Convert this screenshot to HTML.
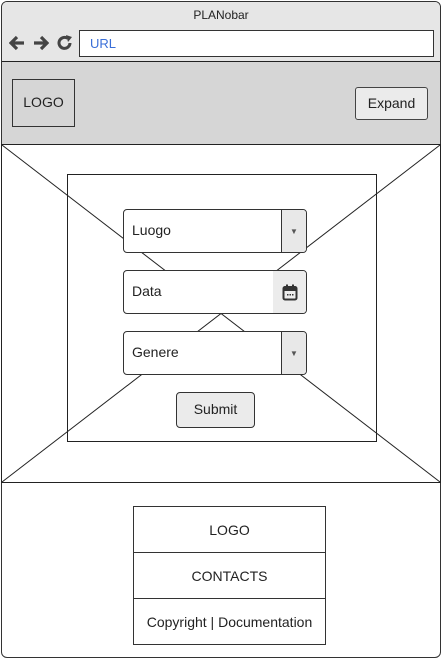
<!DOCTYPE html>
<html><head><meta charset="utf-8"><style>
body{margin:0;width:442px;height:659px;position:relative;background:#fff;font-family:"Liberation Sans",Arial,sans-serif;overflow:hidden}
.a{position:absolute;box-sizing:border-box}
.t{display:flex;align-items:center;justify-content:center;font-size:14px;color:#222}
</style></head><body>
<div class="a" style="left:1px;top:1px;width:440px;height:657px;border:1px solid #333;border-radius:6px;overflow:hidden">
 <div class="a" style="left:0;top:0;width:438px;height:60px;background:#e6e6e6;border-bottom:1px solid #222"></div>
 <div class="a" style="left:0;top:60px;width:438px;height:84px;background:#d6d6d6"></div>
</div>
<div class="a t" style="left:0;top:7px;width:442px;height:16px;font-size:12px">PLANobar</div>
<svg class="a" style="left:9px;top:35px" width="16" height="16"><path d="M8 2 L2 8 L8 14 M2 8 H15" fill="none" stroke="#444" stroke-width="3.2"/></svg>
<svg class="a" style="left:33px;top:35px" width="16" height="16"><path d="M8 2 L14 8 L8 14 M14 8 H1" fill="none" stroke="#444" stroke-width="3.2"/></svg>
<svg class="a" style="left:57px;top:35px" width="16" height="16"><path d="M13 8 A5.5 5.5 0 1 1 10.5 3.3" fill="none" stroke="#444" stroke-width="3"/><path d="M9 0 L15 2 L11 7 Z" fill="#444"/></svg>
<div class="a" style="left:79px;top:30px;width:355px;height:27px;border:1px solid #333;background:#fff;font-size:13px;color:#3a6fd8;padding:5px 10px">URL</div>
<div class="a t" style="left:12px;top:79px;width:63px;height:48px;border:1px solid #333;padding-bottom:2px">LOGO</div>
<div class="a t" style="left:355px;top:87px;width:73px;height:33px;border:1px solid #444;border-radius:3px;background:#ebebeb;padding-bottom:2px">Expand</div>
<svg class="a" style="left:0;top:144px" width="442" height="339">
 <rect x="1.5" y="0.5" width="439" height="338" fill="#fff" stroke="#222"/>
 <line x1="2" y1="1" x2="440" y2="338" stroke="#222"/>
 <line x1="440" y1="1" x2="2" y2="338" stroke="#222"/>
 <rect x="67.5" y="30.5" width="309" height="267" fill="none" stroke="#222"/>
</svg>
<div class="a" style="left:123px;top:209px;width:184px;height:44px;border:1px solid #333;border-radius:4px;background:#fff;overflow:hidden">
 <div class="a" style="left:8px;top:12px;font-size:14px;color:#222">Luogo</div>
 <div class="a t" style="right:0;top:0;width:25px;height:42px;background:#e8e8e8;border-left:1px solid #333;font-size:8px;color:#555">&#9660;</div>
</div>
<div class="a" style="left:123px;top:270px;width:184px;height:44px;border:1px solid #333;border-radius:4px;background:#fff;overflow:hidden">
 <div class="a" style="left:8px;top:12px;font-size:14px;color:#222">Data</div>
 <div class="a t" style="right:0;top:0;width:33px;height:42px;background:#ececec">
  <svg width="16" height="17"><rect x="1.5" y="3" width="13" height="12.5" rx="1.5" fill="none" stroke="#333" stroke-width="2"/><rect x="1" y="3" width="14" height="4" fill="#333"/><rect x="4" y="0.5" width="2" height="3" fill="#333"/><rect x="10" y="0.5" width="2" height="3" fill="#333"/><rect x="5" y="10" width="1.5" height="1.5" fill="#333"/><rect x="7.5" y="10" width="1.5" height="1.5" fill="#333"/><rect x="10" y="10" width="1.5" height="1.5" fill="#333"/></svg>
 </div>
</div>
<div class="a" style="left:123px;top:331px;width:184px;height:44px;border:1px solid #333;border-radius:4px;background:#fff;overflow:hidden">
 <div class="a" style="left:8px;top:12px;font-size:14px;color:#222">Genere</div>
 <div class="a t" style="right:0;top:0;width:25px;height:42px;background:#e8e8e8;border-left:1px solid #333;font-size:8px;color:#555">&#9660;</div>
</div>
<div class="a t" style="left:176px;top:392px;width:79px;height:36px;border:1px solid #333;border-radius:4px;background:#ebebeb;padding-bottom:2px">Submit</div>
<div class="a t" style="left:133px;top:506px;width:193px;height:47px;border:1px solid #333">LOGO</div>
<div class="a t" style="left:133px;top:552px;width:193px;height:47px;border:1px solid #333">CONTACTS</div>
<div class="a t" style="left:133px;top:598px;width:193px;height:47px;border:1px solid #333">Copyright | Documentation</div>
</body></html>
